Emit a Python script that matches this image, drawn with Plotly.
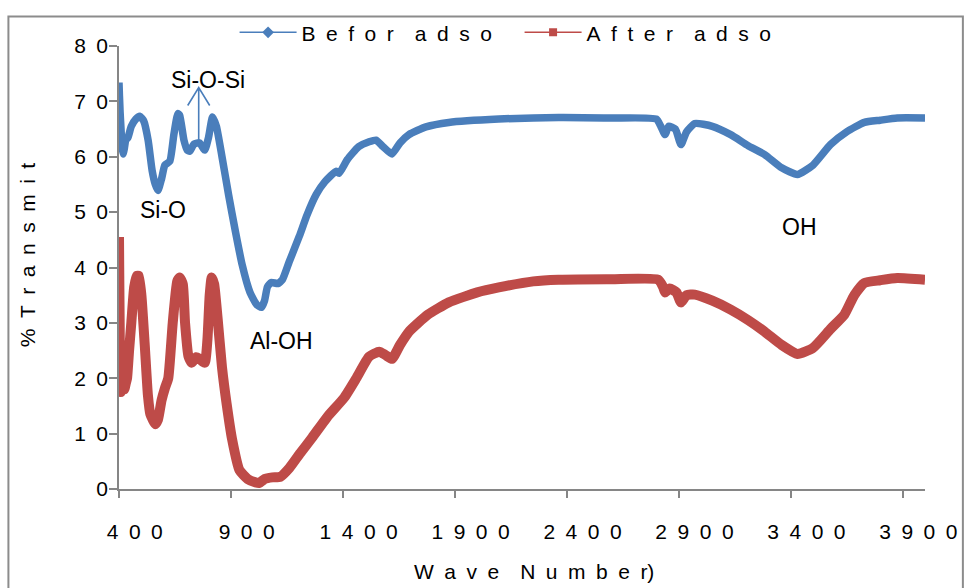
import plotly.graph_objects as go

# ---------------- data ----------------
before_x = [400, 402, 405, 409, 413, 418, 424, 430, 440, 455, 475, 493, 510, 530, 548, 562, 574,
            590, 605, 627, 645, 663, 671, 690, 705, 716, 735, 760, 783, 800, 818, 835, 860, 890,
            920, 950, 985, 1015, 1036, 1050, 1063, 1080, 1110, 1130, 1160, 1205, 1240, 1281, 1320,
            1370, 1383, 1420, 1470, 1517, 1548, 1580, 1619, 1655, 1695, 1771, 1873, 2096, 2363,
            2600, 2800, 2820, 2839, 2855, 2885, 2910, 2935, 2972, 3050, 3132, 3210, 3284, 3360,
            3430, 3500, 3578, 3650, 3729, 3800, 3876, 4000]
before_y = [73.4, 71, 68, 65, 62, 60.5, 61.5, 63, 63.5, 65.5, 66.8, 67.3, 66.5, 63, 57.5, 55, 53.9,
            56, 58.5, 59.2, 64, 67.8, 67.5, 63, 61.2, 61, 62.3, 62.5, 61.2, 63.5, 67.2, 65.5, 60, 53,
            46.5, 40.5, 35.5, 33.3, 32.8, 34, 36.5, 37.3, 37.1, 37.8, 41, 45.6, 49.5, 53.2, 55.5,
            57.4, 57, 59.5, 61.8, 62.7, 63, 61.8, 60.5, 62.5, 64, 65.4, 66.2, 66.8, 67.1,
            67.0, 66.8, 65.5, 64, 65.5, 65, 62.2, 64.5, 66, 65.5, 64, 62, 60.4, 58,
            56.8, 58.5, 62.2, 64.5, 66.2, 66.6, 67, 67]

after_x = [400, 401, 403, 405, 408, 412, 418, 424, 430, 436, 445, 455, 468, 480, 488, 500, 515, 529,
           540, 551, 562, 574, 590, 605, 620, 640, 660, 671, 685, 695, 710, 725, 745, 760, 783, 795,
           805, 814, 825, 840, 860, 881, 905, 938, 975, 1010, 1027, 1050, 1085, 1120, 1161, 1210,
           1263, 1330, 1406, 1460, 1517, 1562, 1590, 1619, 1655, 1695, 1780, 1873, 2000, 2096,
           2250, 2363, 2600, 2808, 2830, 2839, 2860, 2890, 2910, 2935, 2972, 3050, 3132, 3210,
           3284, 3360, 3430, 3500, 3578, 3640, 3684, 3729, 3800, 3876, 4000]
after_y = [45.5, 40, 30, 20, 17.5, 22, 26, 18, 19, 20, 25, 30, 36.5, 38.5, 38.5, 35, 26, 17,
           13.5, 12.5, 11.7, 12.5, 16, 18.2, 20, 30, 37.5, 38.2, 37, 30, 24, 22.8, 23.8, 23.5, 22.8, 27,
           35, 38.2, 37, 31, 22, 15.3, 9, 3.4, 1.8, 1.2, 1.1, 1.8, 2.1, 2.2, 3.8, 6.5,
           9.3, 13, 16.5, 20, 23.9, 24.8, 24.2, 23.5, 26, 28.4, 31.5, 33.7, 35.5, 36.4,
           37.5, 37.8, 37.9, 37.8, 36.5, 35.5, 36.2, 35.5, 33.7, 35, 35.1, 34, 32.4, 30.5,
           28.4, 26, 24.4, 25.5, 28.9, 31.5, 35, 37.2, 37.7, 38.1, 37.8]

series_names = ["Befor adso", "After adso"]
x_ticks = [400, 900, 1400, 1900, 2400, 2900, 3400, 3900]
y_ticks = [0, 10, 20, 30, 40, 50, 60, 70, 80]

labels = ["Si-O-Si", "Si-O", "Al-OH", "OH"]
label_x = [796, 596, 1125, 3440]
label_y = [73.8, 50.3, 26.7, 47.4]

arrow_x = 756     # wavenumber the Si-O-Si arrow points at
arrow_y = 72.5    # arrow tip (transmittance)

# ---------------- style ----------------
BLUE = "#4a7ebb"
RED = "#be4b48"
AXIS = "#868686"
FONT = "Liberation Sans, Arial, sans-serif"
SP = "\u2002"  # wide letter spacing as in the reference


def spaced(s):
    # letter-spaced text: one wide space between letters, two between words
    return (SP + SP).join(SP.join(list(w)) for w in s.split(" "))


fig = go.Figure()

fig.add_trace(go.Scatter(x=before_x, y=before_y, mode="lines", showlegend=False,
                         legendgroup="b", line=dict(color=BLUE, width=7.5, shape="spline", smoothing=0.5)))
fig.add_trace(go.Scatter(x=after_x, y=after_y, mode="lines", showlegend=False,
                         legendgroup="a", line=dict(color=RED, width=10, shape="spline", smoothing=0.5)))
# legend entries (line with marker, as in the reference)
fig.add_trace(go.Scatter(x=[None], y=[None], mode="lines+markers", name=spaced(series_names[0]),
                         legendgroup="b", line=dict(color=BLUE, width=1.5),
                         marker=dict(symbol="diamond", size=9, color=BLUE)))
fig.add_trace(go.Scatter(x=[None], y=[None], mode="lines+markers", name=spaced(series_names[1]),
                         legendgroup="a", line=dict(color=RED, width=1.5),
                         marker=dict(symbol="square", size=8, color=RED)))

fig.update_xaxes(range=[400, 4000], tickvals=x_ticks,
                 ticktext=["\u2003\u2002" + SP.join(list(str(v))) for v in x_ticks],
                 showgrid=False, zeroline=False, showline=True, linecolor=AXIS, linewidth=1.5,
                 ticks="outside", ticklen=7, tickcolor=AXIS, tickwidth=1.5,
                 ticklabelstandoff=16,
                 tickfont=dict(family=FONT, size=21, color="#000000"))
fig.update_yaxes(range=[0, 80], tickvals=y_ticks,
                 ticktext=[SP.join(list(str(v))) for v in y_ticks],
                 showgrid=False, zeroline=False, showline=True, linecolor=AXIS, linewidth=1.5,
                 ticks="outside", ticklen=8, tickcolor=AXIS, tickwidth=1.5,
                 ticklabelstandoff=-3,
                 tickfont=dict(family=FONT, size=21, color="#000000"))

annotations = []
for t, x, y in zip(labels, label_x, label_y):
    annotations.append(dict(x=x, y=y, xref="x", yref="y", text=t, showarrow=False,
                            font=dict(family=FONT, size=23, color="#000000")))
# axis titles
annotations.append(dict(x=-0.114, y=0.528, xref="paper", yref="paper", textangle=-90,
                        xanchor="center", yanchor="middle",
                        text="%" + SP + SP.join(list("Transmit")), showarrow=False,
                        font=dict(family=FONT, size=21, color="#000000")))
annotations.append(dict(x=0.515, y=-0.187, xref="paper", yref="paper",
                        xanchor="center", yanchor="middle",
                        text=spaced("Wave Number") + ")", showarrow=False,
                        font=dict(family=FONT, size=21, color="#000000")))

shapes = [
    # chart border
    dict(type="rect", xref="paper", yref="paper", x0=-0.1372, x1=1.047, y0=-0.4, y1=1.0668,
         line=dict(color="#8c8c8c", width=2), fillcolor="rgba(0,0,0,0)", layer="below"),
    # open arrow pointing up at the Si-O-Si band (sized in pixels, anchored on the data point)
    dict(type="path", xref="x", yref="y", xsizemode="pixel", ysizemode="pixel",
         xanchor=arrow_x, yanchor=arrow_y,
         path="M-11,-18 L0,0 L11,-18 M0,0 L0,-55",
         line=dict(color=BLUE, width=1.6), layer="above"),
]

fig.update_layout(
    width=969, height=588,
    margin=dict(l=119, r=41, t=40, b=99),
    plot_bgcolor="white", paper_bgcolor="white",
    font=dict(family=FONT, size=21, color="#000000"),
    showlegend=True,
    legend=dict(orientation="h", x=0.1434, xanchor="left", y=1.03, yanchor="middle",
                font=dict(family=FONT, size=21, color="#000000"), bgcolor="rgba(0,0,0,0)",
                itemwidth=57, entrywidth=213, entrywidthmode="pixels"),
    annotations=annotations,
    shapes=shapes,
)

fig.write_html("out.html")
